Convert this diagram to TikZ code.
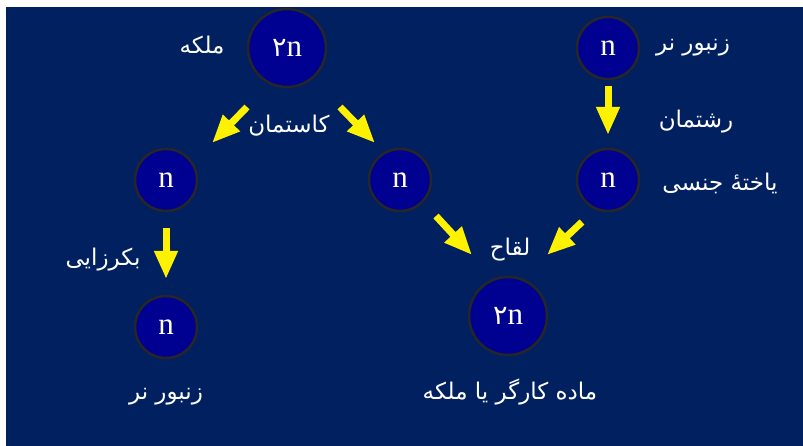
\documentclass[tikz,border=0pt]{standalone}
\usepackage{fontspec}
\setmainfont{Liberation Serif}
\newfontfamily\farsi[Script=Arabic]{DejaVu Sans}
\TeXXeTstate=1
\usetikzlibrary{arrows.meta}
\definecolor{bgblue}{RGB}{0,32,96}
\definecolor{cellblue}{RGB}{0,0,145}
\definecolor{rimgray}{RGB}{38,38,38}
\newcommand{\fa}[1]{{\farsi\beginR #1\endR}}

\begin{document}
\begin{tikzpicture}[x=1pt, y=-1pt,
  cell/.style={draw=rimgray, line width=2.5pt, circle, fill=cellblue, text=white, inner sep=0pt, minimum size=62pt, font=\fontsize{31}{31}\selectfont},
  bigcell/.style={cell, minimum size=78pt},
  tag/.style={text=white, inner sep=0pt, font=\fontsize{23}{27}\selectfont},
  yarrow/.style={yellow, line width=7pt, -{Triangle[length=28pt,width=22pt]}}]
\useasboundingbox (0,0) rectangle (803,446);
\fill[bgblue] (6,7) rectangle (803,446);
% cells
\node[bigcell] (queen) at (287,48) {{\farsi\fontsize{27}{27}\selectfont ۲}n};
\node[cell] (eggL) at (166,180) {n};
\node[cell] (eggR) at (400,180) {n};
\node[cell] (drone) at (608,48) {n};
\node[cell] (sperm) at (608,180) {n};
\node[cell] (son) at (166,327) {n};
\node[bigcell] (zygote) at (508,316) {{\farsi\fontsize{27}{27}\selectfont ۲}n};
% labels
\node[tag] (tqueen) at (202,45) {\fa{ملکه}};
\node[tag] (tmeio) at (289,126) {\fa{کاستمان}};
\node[tag] (tdrone) at (693,48) {\fa{زنبور نر}};
\node[tag] (tmito) at (696,122) {\fa{رشتمان}};
\node[tag] (tgamete) at (720,183) {\fa{یاختهٔ جنسی}};
\node[tag] (tparth) at (103,260) {\fa{بکرزایی}};
\node[tag] (tson) at (166,397) {\fa{زنبور نر}};
\node[tag] (tfert) at (510,250) {\fa{لقاح}};
\node[tag] (tfemale) at (510,392) {\fa{ماده کارگر یا ملکه}};
% arrows
\coordinate (a1) at (247,107); \coordinate (b1) at (212,143);
\coordinate (a2) at (340,107); \coordinate (b2) at (375,143);
\coordinate (a3) at (608,86);  \coordinate (b3) at (608,135);
\coordinate (a4) at (166,228); \coordinate (b4) at (166,279);
\coordinate (a5) at (436,216); \coordinate (b5) at (472,255);
\coordinate (a6) at (582,222); \coordinate (b6) at (547,255);
\draw[yarrow] (a1) -- (b1);
\draw[yarrow] (a2) -- (b2);
\draw[yarrow] (a3) -- (b3);
\draw[yarrow] (a4) -- (b4);
\draw[yarrow] (a5) -- (b5);
\draw[yarrow] (a6) -- (b6);
\end{tikzpicture}
\end{document}
